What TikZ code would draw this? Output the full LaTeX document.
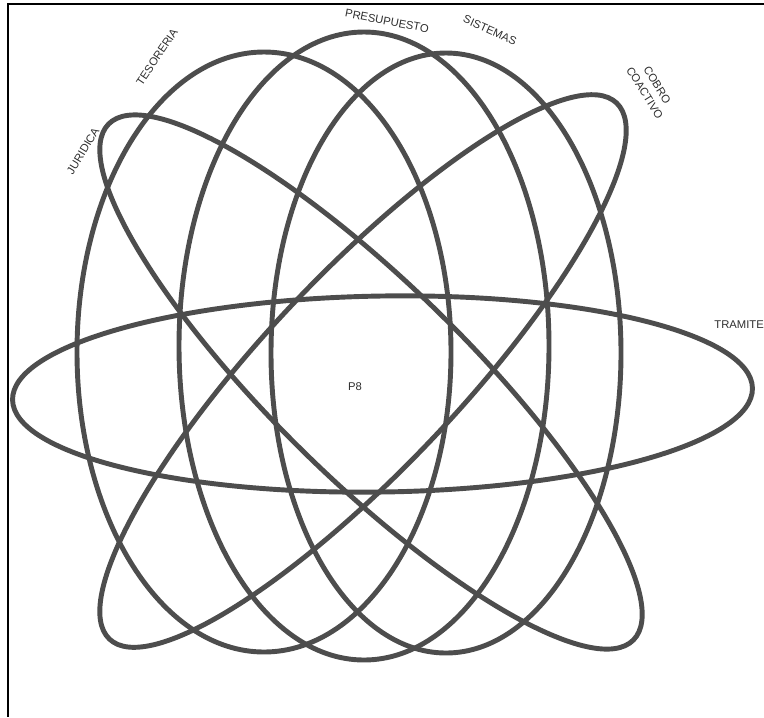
\documentclass[tikz,border=0pt]{standalone}
\usepackage{fontspec}
\setmainfont{Liberation Sans}
\definecolor{ringgray}{HTML}{4D4D4D}
\definecolor{labelgray}{HTML}{2E2E2E}
\tikzset{
  ring/.style={draw=ringgray, line width=4.2pt},
  setname/.style={text=labelgray, font=\fontsize{9.6}{12.5}\selectfont, inner sep=0pt, align=center},
  frameline/.style={draw=black, line width=1.2pt},
}

\begin{document}
\begin{tikzpicture}[x=0.03cm, y=-0.03cm]
    \useasboundingbox (0,0) rectangle (764,717);
    \coordinate (tl) at (8,4);
    \coordinate (tr) at (764,4);
    \coordinate (bl) at (8,717);
    \draw[frameline] (tr) -- (tl) -- (bl);

    % upright sets
    \draw[ring] (264,352) ellipse [x radius=187, y radius=300];
    \draw[ring] (364,346) ellipse [x radius=185, y radius=314];
    \draw[ring] (446,353) ellipse [x radius=175, y radius=300];
    % slanted sets
    \draw[ring, rotate around={-44.5:(371,382)}] (371,382) ellipse [x radius=368, y radius=97];
    \draw[ring, rotate around={46.6:(363,371)}] (363,371) ellipse [x radius=369, y radius=97];
    % lying set
    \draw[ring, rotate around={0.9:(382.5,394)}] (382.5,394) ellipse [x radius=370, y radius=98];

    \node[setname, rotate=59] (juridica) at (83,151) {JURIDICA};
    \node[setname, rotate=56] (tesoreria) at (157,57) {TESORERIA};
    \node[setname, rotate=-11] (presupuesto) at (387,21) {PRESUPUESTO};
    \node[setname, rotate=-24] (sistemas) at (490,30) {SISTEMAS};
    \node[setname, rotate=-58] (cobro) at (651,89) {COBRO\\COACTIVO};
    \node[setname, anchor=east] (tramite) at (764,325) {TRAMITE};
    \node[setname] (p8) at (355,387) {P8};
\end{tikzpicture}
\end{document}
